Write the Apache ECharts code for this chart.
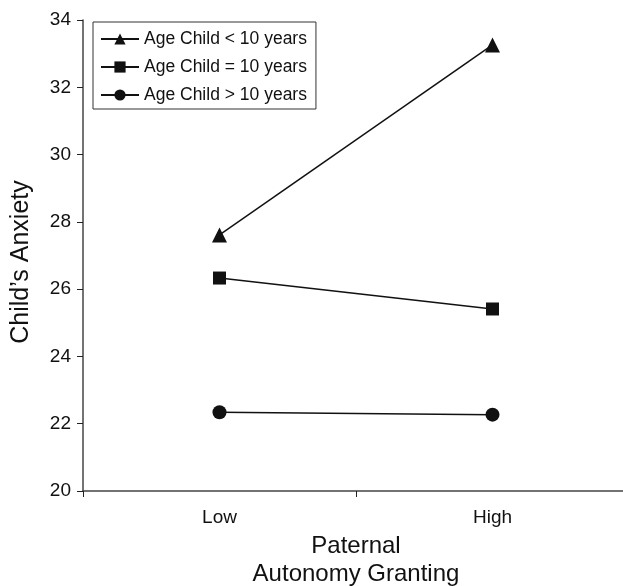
<!DOCTYPE html>
<html>
<head>
<meta charset="utf-8">
<script src="https://cdn.jsdelivr.net/npm/echarts@6/dist/echarts.min.js"></script>
<style>
html,body{margin:0;padding:0;background:#fff;overflow:hidden;}
#chart{width:623px;height:586px;}
</style>
</head>
<body>
<div id="chart"></div>
<script>
var categories = ['Low', 'High'];
var seriesNames = ['Age Child < 10 years', 'Age Child = 10 years', 'Age Child > 10 years'];
var under10 = [27.61, 33.26];
var equal10 = [26.33, 25.41];
var over10 = [22.34, 22.27];
var yTicks = {min: 20, max: 34, interval: 2};

var chart = echarts.init(document.getElementById('chart'), null, {renderer: 'canvas', width: 623, height: 586});
var font = '"Liberation Sans", Arial, Helvetica, sans-serif';
function mk(name, data, symbol, size) {
  return {
    name: name, type: 'line', data: data, symbol: symbol, symbolSize: size,
    lineStyle: {color: '#111', width: 1.5},
    itemStyle: {color: '#111'},
    emphasis: {disabled: true},
    animation: false
  };
}
chart.setOption({
  animation: false,
  grid: {left: 83, top: 20, width: 546, height: 471, containLabel: false, outerBoundsMode: 'none'},
  legend: {
    orient: 'vertical', left: 93, top: 22,
    data: seriesNames,
    itemWidth: 38, itemHeight: 14, itemGap: 10,
    padding: [8, 9, 5, 7],
    borderColor: '#333', borderWidth: 1,
    textStyle: {fontFamily: font, fontSize: 17.5, color: '#111'},
    selectedMode: false
  },
  xAxis: {
    type: 'category', data: categories, boundaryGap: true,
    axisLine: {lineStyle: {color: '#444', width: 1.5}},
    axisTick: {show: true, length: 6, lineStyle: {color: '#222'}},
    axisLabel: {fontFamily: font, fontSize: 19, color: '#111', margin: 17},
    name: 'Paternal\nAutonomy Granting', nameLocation: 'middle', nameGap: 39,
    nameTextStyle: {fontFamily: font, fontSize: 24, color: '#111', lineHeight: 28}
  },
  yAxis: {
    type: 'value', min: yTicks.min, max: yTicks.max, interval: yTicks.interval,
    splitLine: {show: false},
    axisLine: {show: true, lineStyle: {color: '#444', width: 1.5}},
    axisTick: {show: true, length: 6, lineStyle: {color: '#222'}},
    axisLabel: {fontFamily: font, fontSize: 19, color: '#111', margin: 12},
    name: 'Child\u2019s Anxiety', nameLocation: 'middle', nameGap: 49, nameRotate: 90,
    nameTextStyle: {fontFamily: font, fontSize: 25, color: '#111', padding: [0, 13, 0, 0]}
  },
  series: [
    mk(seriesNames[0], under10, 'triangle', 15),
    mk(seriesNames[1], equal10, 'rect', 13),
    mk(seriesNames[2], over10, 'circle', 14)
  ]
});
</script>
</body>
</html>
